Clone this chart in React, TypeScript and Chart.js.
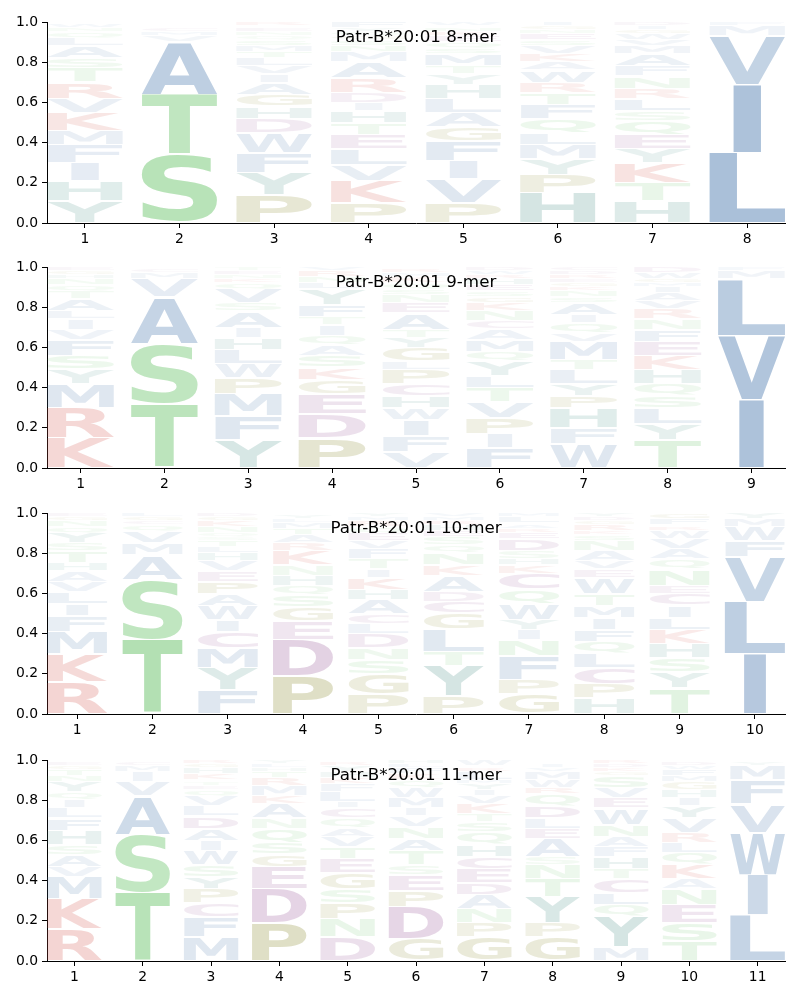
import React, { useEffect, useRef } from "react";
import { Chart, registerables } from "chart.js";
Chart.register(...registerables);

// ---------- data ----------
const TITLES = ["Patr-B*20:01 8-mer", "Patr-B*20:01 9-mer", "Patr-B*20:01 10-mer", "Patr-B*20:01 11-mer"];
const Y_TICKS = [0, 0.2, 0.4, 0.6, 0.8, 1.0];

const POS_8 = [1, 2, 3, 4, 5, 6, 7, 8];
const LET_8 = ["YHIFMKVRTSALQNWG", "STAVMCGIL", "PYFWDHGAIVLTMSQNEKR", "PKVLETHIDRAMNSGQYF", "PVIFGALHYTMSQEKNRW", "HPYMLQFTRWAKVSENGI", "HTKYEQSLRNFAMVWGID", "LIVMF"];
const HT_8 = [
  [.11, .10, .09, .09, .07, .09, .07, .08, .07, .05, .06, .04, .03, .02, .02, .01],
  [.34, .30, .26, .03, .02, .02, .01, .01, .01],
  [.14, .11, .10, .10, .07, .06, .06, .06, .04, .04, .04, .03, .03, .03, .02, .02, .02, .01, .02],
  [.10, .11, .08, .08, .07, .06, .06, .04, .05, .07, .08, .05, .03, .03, .02, .02, .02, .03],
  [.10, .12, .09, .10, .07, .07, .07, .07, .05, .04, .06, .03, .03, .03, .02, .02, .01, .02],
  [.15, .09, .08, .07, .06, .07, .07, .06, .05, .06, .04, .04, .04, .03, .03, .02, .02, .02],
  [.11, .09, .10, .07, .07, .07, .05, .06, .05, .06, .05, .06, .04, .03, .03, .02, .02, .02],
  [.35, .34, .24, .05, .02],
];

const POS_9 = [1, 2, 3, 4, 5, 6, 7, 8, 9];
const LET_9 = ["KRMYSFVILATQNHGE", "TSAVMCG", "YFMPWLHIASVQKNET", "PDEGKSAQITFYLNRV", "VFIWHCPLGYTAENSQKMRD", "FIPVTLYQMACNKGSEHRWD", "WFHPYLTMVQIASNKGERDC", "TYLSQHKEFNRVAIMGWD", "IVLMF"];
const HT_9 = [
  [.15, .15, .12, .07, .07, .08, .05, .05, .04, .06, .04, .03, .03, .02, .02, .02],
  [.32, .30, .23, .09, .03, .02, .01],
  [.14, .12, .11, .08, .07, .07, .06, .05, .08, .04, .07, .03, .02, .02, .02, .02],
  [.15, .12, .10, .07, .06, .06, .05, .05, .05, .04, .06, .08, .03, .03, .03, .02],
  [.08, .08, .08, .06, .06, .06, .07, .04, .07, .05, .04, .08, .05, .04, .03, .03, .03, .02, .02, .01],
  [.10, .07, .08, .08, .07, .06, .07, .05, .06, .05, .04, .05, .04, .03, .03, .03, .03, .02, .02, .02],
  [.12, .08, .10, .06, .06, .07, .05, .09, .04, .05, .04, .06, .03, .03, .02, .02, .02, .02, .02, .02],
  [.14, .08, .08, .06, .06, .07, .07, .07, .06, .05, .05, .04, .04, .03, .02, .02, .03, .03],
  [.34, .32, .28, .04, .02],
];

const POS_10 = [1, 2, 3, 4, 5, 6, 7, 8, 9, 10];
const LET_10 = ["RKMFILVAHTSYQNGE", "TSAMVQCGL", "FYMCIWAPEVHLTSQNKGD", "PDEGSQHNKRATMLYV", "PGSNDLCAHKITFVEQRMY", "PYTLGCDAKNQSEHRMV", "GPFNIYWQCKHSDERATLM", "HPCLQFIMTWEVANSKRGDY", "TYSHKLICENQAVWRMFG", "ILVFWMY"];
const HT_10 = [
  [.16, .14, .11, .08, .06, .06, .05, .05, .04, .06, .04, .05, .03, .03, .02, .02],
  [.37, .30, .12, .06, .06, .03, .02, .02, .02],
  [.12, .11, .10, .08, .06, .07, .06, .06, .05, .05, .04, .03, .03, .02, .02, .03, .03, .02, .02],
  [.19, .18, .09, .07, .06, .05, .05, .05, .07, .04, .04, .03, .03, .02, .02, .01],
  [.10, .10, .07, .06, .07, .05, .05, .07, .05, .06, .04, .05, .05, .04, .04, .03, .03, .02, .02],
  [.09, .15, .07, .11, .08, .06, .05, .08, .05, .06, .04, .04, .03, .03, .02, .02, .02],
  [.10, .07, .12, .08, .05, .05, .08, .07, .08, .04, .03, .04, .06, .03, .02, .02, .01, .03, .02],
  [.08, .07, .08, .07, .06, .06, .06, .06, .06, .08, .04, .04, .05, .05, .03, .02, .03, .02, .02, .02],
  [.13, .08, .07, .07, .07, .06, .06, .06, .04, .08, .05, .05, .05, .04, .02, .01, .03, .03],
  [.30, .26, .22, .08, .07, .04, .03],
];

const POS_11 = [1, 2, 3, 4, 5, 6, 7, 8, 9, 10, 11];
const LET_11 = ["RKMVASHFLIQYNTGEC", "TSAVIMCG", "MFCPYSWIADLVQETNKHGR", "PDEGSQNAKMRTHLY", "DNPSGETVAQCILFKHYRM", "GDPESTANVIMWQKFLH", "GPNADECHQSTKVIYMLRFW", "GPYTNSAELDQRWMVIKH", "MYQLCTHFANWEVSGKDR", "TSENAKQLRVYIHGMFWDP", "LIWVFMYA"];
const HT_11 = [
  [.16, .15, .11, .05, .06, .05, .07, .06, .05, .04, .04, .05, .03, .03, .02, .02, .01],
  [.34, .29, .19, .07, .05, .03, .02, .01],
  [.12, .10, .07, .07, .06, .06, .07, .05, .06, .06, .05, .05, .03, .02, .02, .01, .03, .03, .02, .02],
  [.19, .17, .11, .06, .06, .07, .05, .07, .04, .05, .04, .03, .02, .02, .02],
  [.12, .09, .08, .07, .08, .07, .06, .05, .04, .05, .05, .03, .05, .04, .03, .03, .03, .02, .01],
  [.11, .16, .08, .08, .05, .07, .06, .06, .05, .04, .05, .05, .04, .03, .03, .02, .02],
  [.12, .07, .07, .07, .06, .07, .06, .06, .06, .05, .04, .05, .04, .03, .03, .02, .04, .02, .01, .03],
  [.12, .07, .13, .09, .07, .04, .09, .05, .05, .06, .06, .03, .04, .04, .02, .02, .01, .01],
  [.07, .15, .06, .06, .07, .05, .06, .05, .05, .06, .08, .05, .05, .06, .02, .02, .02, .02],
  [.10, .09, .09, .08, .05, .07, .06, .05, .05, .07, .06, .04, .04, .04, .03, .03, .02, .02, .01],
  [.23, .20, .21, .14, .12, .07, .02, .01],
];

// ---------- styling ----------
const GROUP_COLORS: Record<string, number[]> = {
  AVLIMFW: [80, 125, 176],
  STNQ: [105, 195, 105],
  KR: [210, 80, 70],
  DEC: [150, 85, 150],
  PG: [140, 140, 50],
  HY: [65, 140, 130],
};
function colorFor(letter: string, h: number) {
  let rgb = [120, 120, 120];
  for (const k of Object.keys(GROUP_COLORS)) if (k.includes(letter)) rgb = GROUP_COLORS[k];
  const a = Math.min(1, 0.03 + 1.3 * h);
  return `rgba(${rgb[0]},${rgb[1]},${rgb[2]},${a.toFixed(3)})`;
}

const FONT_FAMILY = "'DejaVu Sans', 'Liberation Sans', sans-serif";
const glyphCache: Record<string, { l: number; r: number; a: number; d: number }> = {};
function glyphBox(ctx: CanvasRenderingContext2D, ch: string) {
  if (!glyphCache[ch]) {
    ctx.save();
    ctx.font = `bold 200px ${FONT_FAMILY}`;
    const m = ctx.measureText(ch);
    glyphCache[ch] = { l: m.actualBoundingBoxLeft, r: m.actualBoundingBoxRight, a: m.actualBoundingBoxAscent, d: m.actualBoundingBoxDescent };
    ctx.restore();
  }
  return glyphCache[ch];
}

const PANELS = [
  { title: TITLES[0], positions: POS_8, letters: LET_8, heights: HT_8, top: 8 },
  { title: TITLES[1], positions: POS_9, letters: LET_9, heights: HT_9, top: 253 },
  { title: TITLES[2], positions: POS_10, letters: LET_10, heights: HT_10, top: 499 },
  { title: TITLES[3], positions: POS_11, letters: LET_11, heights: HT_11, top: 746 },
];

const CANVAS_H = 246;

function LogoChart({ panel }: { panel: any }) {
  const ref = useRef<HTMLCanvasElement>(null);
  useEffect(() => {
    const canvas = ref.current;
    if (!canvas) return;
    const positions: number[] = panel.positions;
    const maxLen = Math.max(...panel.letters.map((s: string) => s.length));
    const datasets: any[] = [];
    for (let r = 0; r < maxLen; r++) {
      datasets.push({
        data: positions.map((p, i) => ({ x: p, y: panel.heights[i][r] ?? 0 })),
        letters: positions.map((p, i) => panel.letters[i][r] ?? ""),
        backgroundColor: "rgba(0,0,0,0)",
        borderWidth: 0,
        barPercentage: 0.8,
        categoryPercentage: 1,
      });
    }

    const logoPlugin = {
      id: "logoLetters",
      afterDatasetsDraw(chart: any) {
        const ctx: CanvasRenderingContext2D = chart.ctx;
        const xs = chart.scales.x;
        const eBox = glyphBox(ctx, "E");
        const eWidth = eBox.l + eBox.r;
        ctx.save();
        chart.data.datasets.forEach((ds: any, di: number) => {
          const meta = chart.getDatasetMeta(di);
          meta.data.forEach((el: any, i: number) => {
            const ch = ds.letters[i];
            const h = ds.data[i].y;
            if (!ch || !h) return;
            const pos = ds.data[i].x;
            const { y, base } = el.getProps(["y", "base"], true);
            const x0 = xs.getPixelForValue(pos - 0.4);
            const x1 = xs.getPixelForValue(pos + 0.4);
            const boxW = x1 - x0;
            const top = Math.min(y, base) + 0.8;
            const bot = Math.max(y, base) - 0.8;
            const rh = bot - top;
            if (rh < 0.4) return;
            const g = glyphBox(ctx, ch);
            const gw = g.l + g.r;
            const gh = g.a + g.d;
            // do not stretch horizontally more than the letter "E" would be
            const sx = Math.min(boxW / gw, boxW / eWidth);
            const drawnW = gw * sx;
            const cx = x0 + (boxW - drawnW) / 2;
            ctx.save();
            ctx.translate(cx, top);
            ctx.scale(sx, rh / gh);
            ctx.font = `bold 200px ${FONT_FAMILY}`;
            ctx.textAlign = "left";
            ctx.textBaseline = "alphabetic";
            ctx.fillStyle = colorFor(ch, h);
            ctx.fillText(ch, g.l, g.a);
            ctx.restore();
          });
        });
        ctx.restore();
      },
      afterDraw(chart: any) {
        const ctx: CanvasRenderingContext2D = chart.ctx;
        const a = chart.chartArea;
        ctx.save();
        ctx.font = `16.7px ${FONT_FAMILY}`;
        ctx.fillStyle = "#000";
        ctx.textAlign = "center";
        ctx.textBaseline = "alphabetic";
        ctx.fillText(panel.title, (a.left + a.right) / 2, a.top + 20);
        ctx.restore();
      },
    };

    const tickFont = { family: FONT_FAMILY, size: 13.9 };
    const chart = new Chart(canvas, {
      type: "bar",
      data: { datasets },
      plugins: [logoPlugin],
      options: {
        responsive: false,
        animation: false,
        events: [],
        layout: { padding: { top: 14, right: 15, left: 0, bottom: 0 } },
        plugins: { legend: { display: false }, tooltip: { enabled: false } },
        scales: {
          x: {
            type: "linear",
            stacked: true,
            offset: false,
            min: positions[0] - 0.4,
            max: positions[positions.length - 1] + 0.4,
            afterBuildTicks: (axis: any) => {
              axis.ticks = positions.map((v) => ({ value: v }));
            },
            afterFit: (axis: any) => {
              axis.height = 31;
            },
            ticks: { font: tickFont, color: "#000", padding: 3, maxRotation: 0, autoSkip: false, callback: (v: any) => String(v) },
            grid: { display: true, drawOnChartArea: false, drawTicks: true, tickLength: 5, color: "#000", offset: false },
            border: { display: true, color: "#000", width: 1 },
          },
          y: {
            type: "linear",
            stacked: true,
            min: 0,
            max: 1,
            afterBuildTicks: (axis: any) => {
              axis.ticks = Y_TICKS.map((v) => ({ value: v }));
            },
            afterFit: (axis: any) => {
              axis.width = 47;
            },
            ticks: { font: tickFont, color: "#000", padding: 4, callback: (v: any) => Number(v).toFixed(1) },
            grid: { display: true, drawOnChartArea: false, drawTicks: true, tickLength: 5, color: "#000" },
            border: { display: true, color: "#000", width: 1 },
          },
        },
      } as any,
    });
    return () => chart.destroy();
  }, [panel]);
  return (
    <canvas
      ref={ref}
      width={800}
      height={CANVAS_H}
      style={{ position: "absolute", left: 0, top: panel.top, width: 800, height: CANVAS_H }}
    />
  );
}

export default function App() {
  return (
    <div style={{ position: "absolute", left: 0, top: 0, width: 800, height: 1000, background: "#fff", overflow: "hidden" }}>
      {PANELS.map((p) => (
        <LogoChart key={p.title} panel={p} />
      ))}
    </div>
  );
}
